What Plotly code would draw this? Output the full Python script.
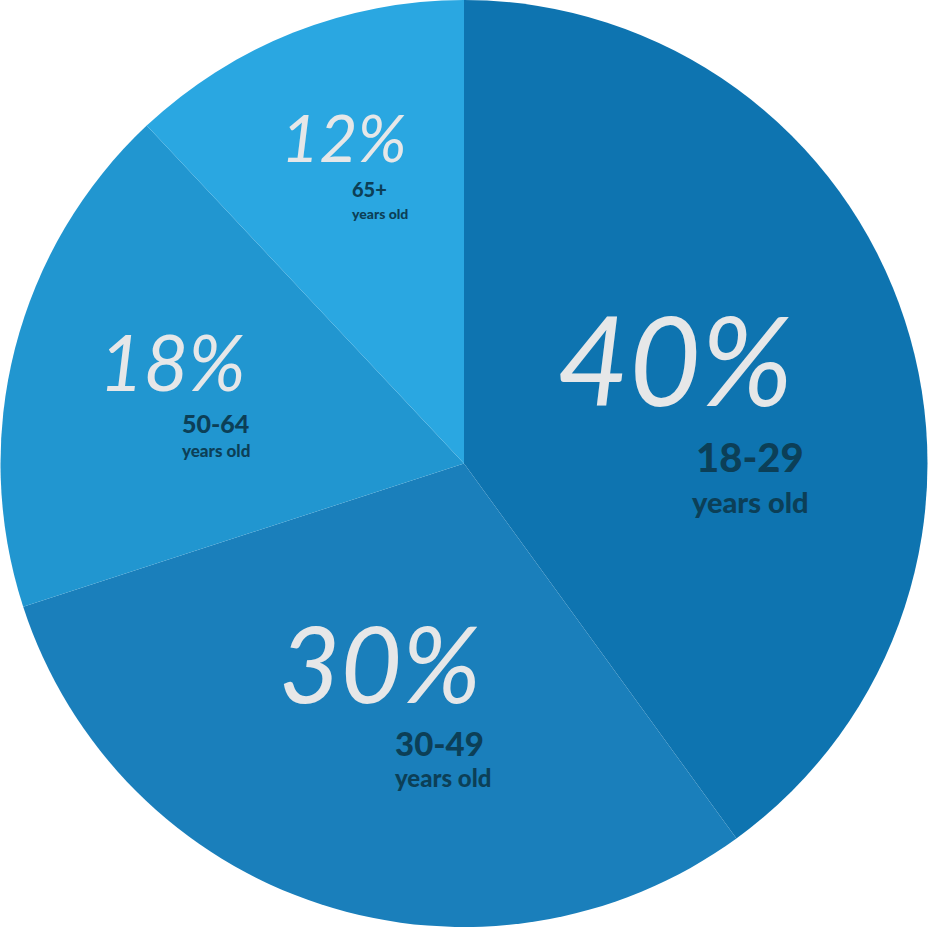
import plotly.graph_objects as go

# grupy wiekowe i udziały
age_groups = ['18-29', '30-49', '50-64', '65+']
shares = [40, 30, 18, 12]
slice_colors = ['#0e74b0', '#1a7fbb', '#2196d0', '#2aa7e1']

W, H = 928, 927
pctColor = '#e6e7e8'
subColor = '#0c3f57'

# położenia etykiet (px) i rozmiary czcionek
pct_pos = [(675, 358), (380, 662), (172, 361), (344, 137)]
pct_size = [124, 106, 77, 66]
grp_pos = [(694, 457), (393, 743), (180, 423), (350, 189)]
grp_size = [40, 33, 25, 20]
yrs_pos = [(690, 501), (393, 777), (180, 450), (350, 213)]
yrs_size = [29, 24, 17, 14]

fig = go.Figure(data=[go.Pie(
    labels=age_groups,
    values=shares,
    sort=False,
    direction='clockwise',
    rotation=0,
    marker=dict(colors=slice_colors, line=dict(width=0)),
    textinfo='none',
    hoverinfo='label+percent',
    showlegend=False,
)])

annotations = []
for i, g in enumerate(age_groups):
    annotations.append(dict(
        x=pct_pos[i][0] / W, y=1 - pct_pos[i][1] / H, xref='paper', yref='paper',
        text='{}%'.format(shares[i]), showarrow=False, xanchor='center', yanchor='middle',
        font=dict(family='Lato', size=pct_size[i], color=pctColor, style='italic', weight=400)
    ))
    annotations.append(dict(
        x=grp_pos[i][0] / W, y=1 - grp_pos[i][1] / H, xref='paper', yref='paper',
        text=g, showarrow=False, xanchor='left', yanchor='middle',
        font=dict(family='Lato', size=grp_size[i], color=subColor, weight=900)
    ))
    annotations.append(dict(
        x=yrs_pos[i][0] / W, y=1 - yrs_pos[i][1] / H, xref='paper', yref='paper',
        text='years old', showarrow=False, xanchor='left', yanchor='middle',
        font=dict(family='Lato', size=yrs_size[i], color=subColor, weight=900)
    ))

fig.update_layout(
    autosize=False,
    width=W,
    height=H,
    margin=dict(l=0, r=0, b=0, t=0, pad=0),
    paper_bgcolor='white',
    plot_bgcolor='white',
    annotations=annotations,
)
# strona ma domyślny margines 8px - usuwamy go, żeby wykres wypełnił okno
fig.write_html("out.html", config={'displayModeBar': False},
               post_script="document.body.style.margin='0';")
